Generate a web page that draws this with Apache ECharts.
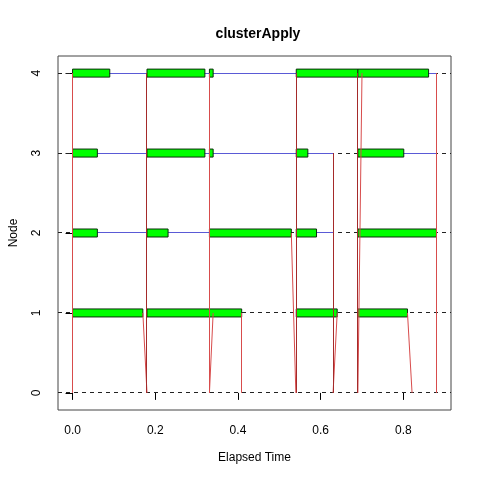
<!DOCTYPE html>
<html><head><meta charset="utf-8">
<script src="https://cdn.jsdelivr.net/npm/echarts@6/dist/echarts.min.js"></script>
<style>html,body{margin:0;padding:0;background:#fff}#c{width:480px;height:480px}</style>
</head><body><div id="c"></div>
<script>
const titleText = 'clusterApply';
const xLabel = 'Elapsed Time';
const yLabel = 'Node';
const xTicks = [0, 0.2, 0.4, 0.6, 0.8];
const yTicks = [0, 1, 2, 3, 4];
const elapsed = 0.88;
const halfH = 0.05;

// execution intervals per node [start, end]
const node1Exec = [[0, 0.170], [0.180, 0.409], [0.541, 0.640], [0.690, 0.810]];
const node2Exec = [[0, 0.060], [0.180, 0.231], [0.331, 0.529], [0.541, 0.590], [0.690, 0.880]];
const node3Exec = [[0, 0.060], [0.180, 0.320], [0.331, 0.340], [0.541, 0.569], [0.690, 0.801]];
const node4Exec = [[0, 0.090], [0.180, 0.320], [0.331, 0.340], [0.541, 0.690], [0.690, 0.861]];

// idle (waiting) intervals per node [start, end]
const node2Wait = [[0.060, 0.180], [0.231, 0.331], [0.590, 0.630]];
const node3Wait = [[0.060, 0.180], [0.320, 0.331], [0.340, 0.541], [0.569, 0.630], [0.801, 0.880]];
const node4Wait = [[0.090, 0.180], [0.320, 0.331], [0.340, 0.541], [0.861, 0.880]];

// communication lines [t0, y0, t1, y1]
const commMain = [
  [0.180, 0, 0.180, 4], [0.541, 0, 0.541, 4], [0.690, 0, 0.690, 4], [0.630, 3, 0.630, 0]
];
const commOther = [
  [0, 0, 0, 4], [0.170, 1, 0.180, 0], [0.331, 0, 0.331, 4], [0.340, 1, 0.331, 0],
  [0.409, 1, 0.409, 0], [0.529, 2, 0.540, 0], [0.640, 1, 0.630, 0], [0.700, 4, 0.690, 0],
  [0.810, 1, 0.821, 0], [0.880, 4, 0.880, 0]
];

const execAll = [];
[node1Exec, node2Exec, node3Exec, node4Exec].forEach((arr, i) => arr.forEach(d => execAll.push([d[0], d[1], i + 1])));
const waitAll = [];
[[node2Wait, 2], [node3Wait, 3], [node4Wait, 4]].forEach(([arr, n]) => arr.forEach(d => waitAll.push([d[0], n, d[1], n])));

const xExt = 0.04 * elapsed;
const yLo = -halfH, yHi = yTicks[yTicks.length - 1] + halfH;
const yExt = 0.04 * (yHi - yLo);
const font = '"Liberation Sans", Arial, sans-serif';
const snap = v => Math.round(v - 0.5) + 0.5;

function segSeries(data, color, z) {
  return {type: 'custom', coordinateSystem: 'cartesian2d', z: z, silent: true,
    encode: {x: [0, 2], y: [1, 3]},
    renderItem: (params, api) => {
      const a = api.coord([api.value(0), api.value(1)]);
      const b = api.coord([api.value(2), api.value(3)]);
      if (Math.abs(a[0] - b[0]) < 0.01) { a[0] = b[0] = snap(a[0]); }
      if (Math.abs(a[1] - b[1]) < 0.01) { a[1] = b[1] = snap(a[1]); }
      return {type: 'line', shape: {x1: a[0], y1: a[1], x2: b[0], y2: b[1]},
        style: {stroke: color, lineWidth: 1, fill: null}};
    },
    data: data};
}

const chart = echarts.init(document.getElementById('c'), null, {renderer: 'canvas'});
chart.setOption({
  animation: false,
  backgroundColor: '#fff',
  title: {text: titleText, left: 253, textAlign: 'center', top: 22,
    textStyle: {fontFamily: font, fontSize: 14, fontWeight: 'bold', color: '#000'}},
  grid: {left: 56, right: 29, top: 56, bottom: 70, show: true, borderColor: '#444', borderWidth: 1, backgroundColor: 'transparent'},
  xAxis: {type: 'value', min: -xExt, max: elapsed + xExt,
    name: xLabel, nameLocation: 'middle', nameGap: 42,
    nameTextStyle: {fontFamily: font, fontSize: 12, color: '#000'},
    axisLine: {show: false}, splitLine: {show: false},
    axisTick: {show: true, length: 7, inside: false, customValues: xTicks, lineStyle: {color: '#000'}},
    axisLabel: {customValues: xTicks, margin: 15, fontFamily: font, fontSize: 12, color: '#000',
      formatter: v => v.toFixed(1)}},
  yAxis: {type: 'value', min: yLo - yExt, max: yHi + yExt,
    name: yLabel, nameLocation: 'middle', nameGap: 38, nameRotate: 90,
    nameTextStyle: {fontFamily: font, fontSize: 12, color: '#000'},
    axisLine: {show: false}, splitLine: {show: false},
    axisTick: {show: true, length: 7, customValues: yTicks, lineStyle: {color: '#000'}},
    axisLabel: {customValues: yTicks, margin: 15, rotate: 90, fontFamily: font, fontSize: 12, color: '#000',
      formatter: v => String(v)}},
  series: [
    {type: 'custom', coordinateSystem: 'cartesian2d', z: 1, silent: true,
      encode: {y: 0},
      renderItem: (params, api) => {
        const cs = params.coordSys;
        const y = snap(api.coord([0, api.value(0)])[1]);
        return {type: 'line', shape: {x1: cs.x, y1: y, x2: cs.x + cs.width, y2: y},
          style: {stroke: '#222', lineWidth: 1, lineDash: [4, 4], fill: null}};
      },
      data: yTicks.map(v => [v])},
    segSeries(waitAll, '#5a5ad6', 2),
    {type: 'custom', coordinateSystem: 'cartesian2d', z: 3, silent: true,
      encode: {x: [0, 1], y: 2},
      renderItem: (params, api) => {
        const s = api.coord([api.value(0), api.value(2) + halfH]);
        const e = api.coord([api.value(1), api.value(2) - halfH]);
        return {type: 'rect', shape: {x: s[0], y: s[1], width: e[0] - s[0], height: e[1] - s[1]},
          style: {fill: '#00ff00', stroke: '#0b2f0b', lineWidth: 1}};
      },
      data: execAll},
    segSeries(commOther, '#d84c4c', 4),
    segSeries(commMain, '#a52a2a', 5)
  ]
});
</script></body></html>
